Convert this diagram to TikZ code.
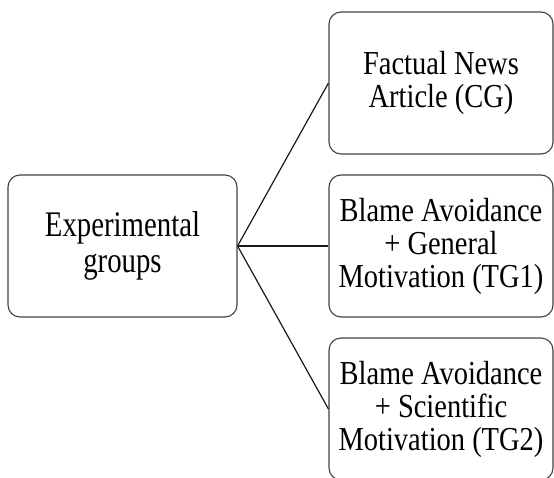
\documentclass[tikz,border=0pt]{standalone}
\usepackage{fontspec}
\setmainfont{Liberation Serif}
\newfontfamily\boxfont[FakeStretch=0.85]{Liberation Serif}
\newfontfamily\rootfont[FakeStretch=0.8]{Liberation Serif}
\begin{document}
\begin{tikzpicture}[x=1pt,y=-1pt,
  box/.style={draw=black!75, line width=1.1pt, rounded corners=12pt,
    minimum width=224pt, minimum height=142pt, align=center, inner sep=0pt,
    font=\boxfont\fontsize{33.5}{33}\selectfont},
  link/.style={draw=black!90, line width=1.2pt}]
\useasboundingbox (0,0) rectangle (554,477);
\clip (0,0) rectangle (554,477);
\node[box, minimum width=229pt, font=\rootfont\fontsize{36}{36}\selectfont] (root) at (122.5,246) {Experimental\\groups};
\node[box] (cg) at (441,83) {Factual News\\Article (CG)};
\node[box] (tg1) at (441,246) {Blame Avoidance\\+ General\\Motivation (TG1)};
\node[box] (tg2) at (441,409) {Blame Avoidance\\+ Scientific\\Motivation (TG2)};
\draw[link] (root.east) -- (cg.west);
\draw[link] (root.east) -- (tg1.west);
\draw[link] (root.east) -- (tg2.west);
\end{tikzpicture}
\end{document}
